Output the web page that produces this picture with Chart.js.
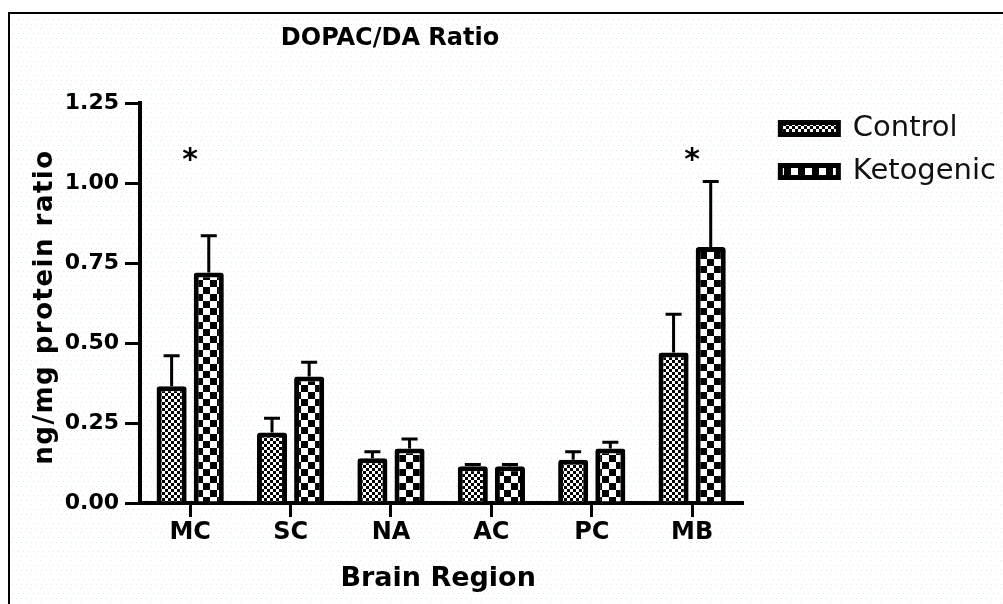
<!DOCTYPE html>
<html lang="en">
<head>
<meta charset="UTF-8">
<title>DOPAC/DA Ratio</title>
<style>
  html, body { margin: 0; padding: 0; background: #fff; }
  #chart { display: block; }
</style>
</head>
<body>
<canvas id="chart" width="1003" height="604"></canvas>
<script src="https://cdn.jsdelivr.net/npm/chart.js@4"></script>
<script>
// values (mean and SEM, ng/mg protein ratio)
const regions = ['MC', 'SC', 'NA', 'AC', 'PC', 'MB'];
const controlMean = [0.365, 0.22, 0.14, 0.115, 0.135, 0.47];
const controlSem = [0.095, 0.045, 0.02, 0.005, 0.025, 0.12];
const ketoMean = [0.72, 0.395, 0.17, 0.115, 0.17, 0.80];
const ketoSem = [0.115, 0.045, 0.03, 0.005, 0.02, 0.205];
const yMin = 0, yMax = 1.25, yStep = 0.25;
const starRegions = ['MC', 'MB'];
const starLevel = 1.09;

const FONT = "'DejaVu Sans', sans-serif";
Chart.defaults.font.family = FONT;
Chart.defaults.color = '#000';

const canvas = document.getElementById('chart');
const ctx = canvas.getContext('2d');

function checker(size) {
    const c = document.createElement('canvas');
    c.width = c.height = size * 2;
    const g = c.getContext('2d');
    g.fillStyle = '#fff';
    g.fillRect(0, 0, size * 2, size * 2);
    g.fillStyle = '#000';
    g.fillRect(0, 0, size, size);
    g.fillRect(size, size, size, size);
    return ctx.createPattern(c, 'repeat');
}

function dotTexture() {
    const c = document.createElement('canvas');
    c.width = 10; c.height = 14;
    const g = c.getContext('2d');
    g.fillStyle = '#fff';
    g.fillRect(0, 0, 10, 14);
    g.fillStyle = '#e4e4e4'; g.fillRect(0, 0, 1, 1);
    g.fillStyle = '#f6d8f6'; g.fillRect(3, 5, 1, 1); g.fillRect(1, 10, 1, 1);
    g.fillStyle = '#d8f2d8'; g.fillRect(8, 5, 1, 1); g.fillRect(6, 10, 1, 1);
    return ctx.createPattern(c, 'repeat');
}

const backdrop = {
    id: 'backdrop',
    beforeDraw(chart) {
        const c = chart.ctx;
        c.save();
        c.fillStyle = '#fff';
        c.fillRect(0, 0, chart.width, chart.height);
        c.fillStyle = dotTexture();
        c.fillRect(11, 15, chart.width - 11, chart.height - 15);
        c.strokeStyle = '#000';
        c.lineWidth = 2;
        c.beginPath();
        c.moveTo(9, chart.height);
        c.lineTo(9, 13);
        c.lineTo(chart.width, 13);
        c.stroke();
        c.restore();
    }
};

const legendPlace = {
    id: 'legendPlace',
    afterLayout(chart) {
        const lg = chart.legend;
        const w = lg.width, h = lg.height;
        lg.left = chart.chartArea.right + 24;
        lg.right = lg.left + w;
        lg.top = chart.chartArea.top - 3;
        lg.bottom = lg.top + h;
    }
};

const errorBars = {
    id: 'errorBars',
    afterDatasetsDraw(chart) {
        const c = chart.ctx, y = chart.scales.y;
        const sems = [controlSem, ketoSem];
        c.save();
        c.strokeStyle = '#000';
        c.lineWidth = 3;
        chart.data.datasets.forEach((ds, i) => {
            chart.getDatasetMeta(i).data.forEach((bar, j) => {
                const top = y.getPixelForValue(ds.data[j] + sems[i][j]);
                c.beginPath();
                c.moveTo(bar.x, bar.y);
                c.lineTo(bar.x, top);
                c.moveTo(bar.x - 8, top);
                c.lineTo(bar.x + 8, top);
                c.stroke();
            });
        });
        c.restore();
    }
};

const texts = {
    id: 'texts',
    afterDraw(chart) {
        const c = chart.ctx, a = chart.chartArea;
        const x = chart.scales.x, y = chart.scales.y;
        c.save();
        c.fillStyle = '#000';
        c.textAlign = 'center';
        c.textBaseline = 'alphabetic';

        c.font = 'bold 24px ' + FONT;
        c.fillText('DOPAC/DA Ratio', a.left + 250, 45);

        c.font = 'bold 27px ' + FONT;
        c.fillText('Brain Region', (a.left + a.right) / 2 - 3, 586);

        c.save();
        c.translate(52, (a.top + a.bottom) / 2 + 4);
        c.rotate(-Math.PI / 2);
        c.font = 'bold 26px ' + FONT;
        c.letterSpacing = '1.5px';
        c.fillText('ng/mg protein ratio', 0, 0);
        c.restore();

        c.font = 'bold 30px ' + FONT;
        const m = c.measureText('*');
        starRegions.forEach(r => {
            const px = x.getPixelForValue(regions.indexOf(r));
            const py = y.getPixelForValue(starLevel);
            c.fillText('*', px, py + (m.actualBoundingBoxAscent - m.actualBoundingBoxDescent) / 2);
        });
        c.restore();
    }
};

new Chart(ctx, {
    type: 'bar',
    data: {
        labels: regions,
        datasets: [{
            label: 'Control',
            data: controlMean,
            backgroundColor: checker(3),
            borderColor: '#000',
            borderWidth: 5,
            borderRadius: 3
        }, {
            label: 'Ketogenic',
            data: ketoMean,
            backgroundColor: checker(7),
            borderColor: '#000',
            borderWidth: 5,
            borderRadius: 3
        }]
    },
    options: {
        responsive: false,
        animation: false,
        layout: { padding: { left: 0, top: 103, right: 21, bottom: 0 } },
        datasets: { bar: { categoryPercentage: 0.74, barPercentage: 0.81 } },
        plugins: {
            title: { display: false },
            tooltip: { enabled: false },
            legend: {
                position: 'right',
                align: 'start',
                labels: {
                    boxWidth: 58,
                    boxHeight: 12,
                    padding: 14,
                    color: '#111',
                    font: { size: 29, family: FONT }
                }
            }
        },
        scales: {
            x: {
                afterFit(s) { s.height = 101; },
                grid: { display: true, offset: false, drawOnChartArea: false, tickLength: 14, lineWidth: 3, color: '#000' },
                border: { display: true, color: '#000', width: 4 },
                ticks: { padding: 1, color: '#000', font: { size: 24, weight: 'bold', family: FONT } }
            },
            y: {
                min: yMin,
                max: yMax,
                afterFit(s) { s.width = 140; },
                grid: { display: true, drawOnChartArea: false, tickLength: 15, lineWidth: 3, color: '#000' },
                border: { display: true, color: '#000', width: 4 },
                ticks: {
                    stepSize: yStep,
                    padding: 6,
                    color: '#000',
                    font: { size: 22, weight: 'bold', family: FONT },
                    callback: v => v.toFixed(2)
                }
            }
        }
    },
    plugins: [backdrop, legendPlace, errorBars, texts]
});
</script>
</body>
</html>
